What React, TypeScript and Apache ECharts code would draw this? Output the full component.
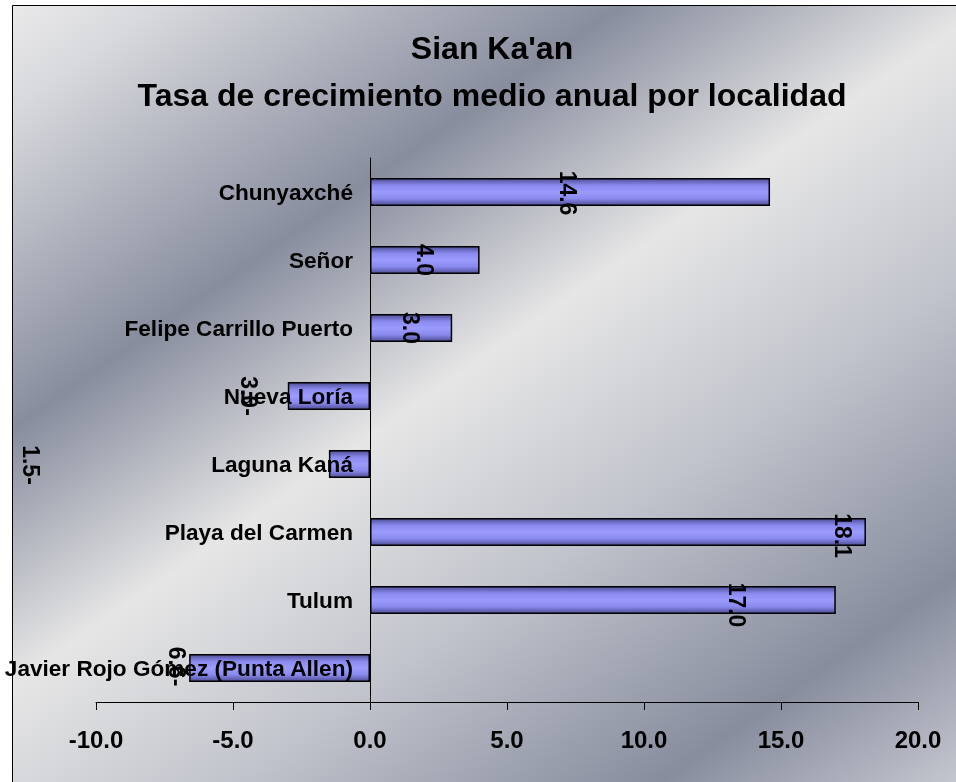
import React, { useEffect, useRef } from 'react';
import * as echarts from 'echarts';

const titleLine1 = "Sian Ka'an";
const titleLine2 = 'Tasa de crecimiento medio anual por localidad';
const categories = [
  'Chunyaxché',
  'Señor',
  'Felipe Carrillo Puerto',
  'Nueva Loría',
  'Laguna Kaná',
  'Playa del Carmen',
  'Tulum',
  'Javier Rojo Gómez (Punta Allen)',
];
const values = [14.6, 4.0, 3.0, -3.0, -1.5, 18.1, 17.0, -6.6];
const xMin = -10;
const xMax = 20;
const xStep = 5;

// label displacement styles (rotated frame), as they sit in the original picture
const labelShift: number[][] = [
  [1, 2], [0, 0], [0, 0], [0, 80], [1, 318], [3.5, -225], [5, -134.5], [-1.5, 103],
];

const FONT = '"Liberation Sans", Arial, sans-serif';

const fmtValue = (v: number) => (v < 0 ? Math.abs(v).toFixed(1) + '-' : v.toFixed(1));

export default function App() {
  const ref = useRef<HTMLDivElement>(null);
  useEffect(() => {
    if (!ref.current) return;
    const chart = echarts.init(ref.current, undefined, { renderer: 'svg' });
    const barGrad = new echarts.graphic.LinearGradient(0, 0, 0, 1, [
      { offset: 0, color: '#4e4e96' },
      { offset: 0.25, color: '#8a8aee' },
      { offset: 0.5, color: '#9c9cff' },
      { offset: 0.75, color: '#8a8aee' },
      { offset: 1, color: '#4e4e96' },
    ]);
    const bgGrad = new echarts.graphic.LinearGradient(
      0, 0, 684, 984,
      [
        { offset: 0, color: '#ececec' },
        { offset: 0.08, color: '#d8d9dd' },
        { offset: 0.3, color: '#888d9e' },
        { offset: 0.475, color: '#e6e6e6' },
        { offset: 0.65, color: '#c0c3cb' },
        { offset: 0.85, color: '#888d9e' },
        { offset: 1, color: '#c8cad2' },
      ],
      true
    );
    chart.setOption({
      animation: false,
      graphic: [
        {
          type: 'rect',
          z: -100,
          silent: true,
          shape: { x: 12.5, y: 5.5, width: 1000, height: 1000 },
          style: { fill: bgGrad, stroke: '#000', lineWidth: 1 },
        },
      ],
      title: {
        text: titleLine1 + '\n' + titleLine2,
        left: 492,
        top: 24,
        padding: 0,
        textAlign: 'center',
        textStyle: {
          fontFamily: FONT,
          fontSize: 32,
          fontWeight: 'bold',
          color: '#000',
          lineHeight: 47,
        },
      },
      grid: { left: 96, right: 38, top: 158, bottom: 80, containLabel: false, outerBoundsMode: 'none' },
      xAxis: {
        type: 'value',
        min: xMin,
        max: xMax,
        interval: xStep,
        splitLine: { show: false },
        axisLine: { show: true, onZero: false, lineStyle: { color: '#000', width: 1 } },
        axisTick: { show: true, length: 8, lineStyle: { color: '#000', width: 1 } },
        axisLabel: {
          formatter: (v: number) => v.toFixed(1),
          fontFamily: FONT,
          fontSize: 24,
          fontWeight: 'bold',
          color: '#000',
          margin: 25,
        },
      },
      yAxis: {
        type: 'category',
        inverse: true,
        z: 10,
        data: categories,
        axisLine: { show: true, onZero: true, lineStyle: { color: '#000', width: 1 } },
        axisTick: { show: false },
        splitLine: { show: false },
        axisLabel: {
          fontFamily: FONT,
          fontSize: 22.6,
          fontWeight: 'bold',
          color: '#000',
          margin: -257,
        },
      },
      series: [
        {
          type: 'bar',
          barWidth: 28,
          data: values.map((v, i) => ({ value: v, label: { offset: labelShift[i] } })),
          itemStyle: { color: barGrad, borderColor: '#000', borderWidth: 1.5 },
          label: {
            show: true,
            position: 'inside',
            rotate: -90,
            align: 'center',
            verticalAlign: 'middle',
            formatter: (p: any) => fmtValue(p.value),
            fontFamily: FONT,
            fontSize: 23,
            fontWeight: 'bold',
            color: '#000',
          },
        },
      ],
    });
    return () => chart.dispose();
  }, []);
  return (
    <div
      ref={ref}
      style={{ position: 'fixed', left: 0, top: 0, width: 956, height: 782 }}
    />
  );
}
